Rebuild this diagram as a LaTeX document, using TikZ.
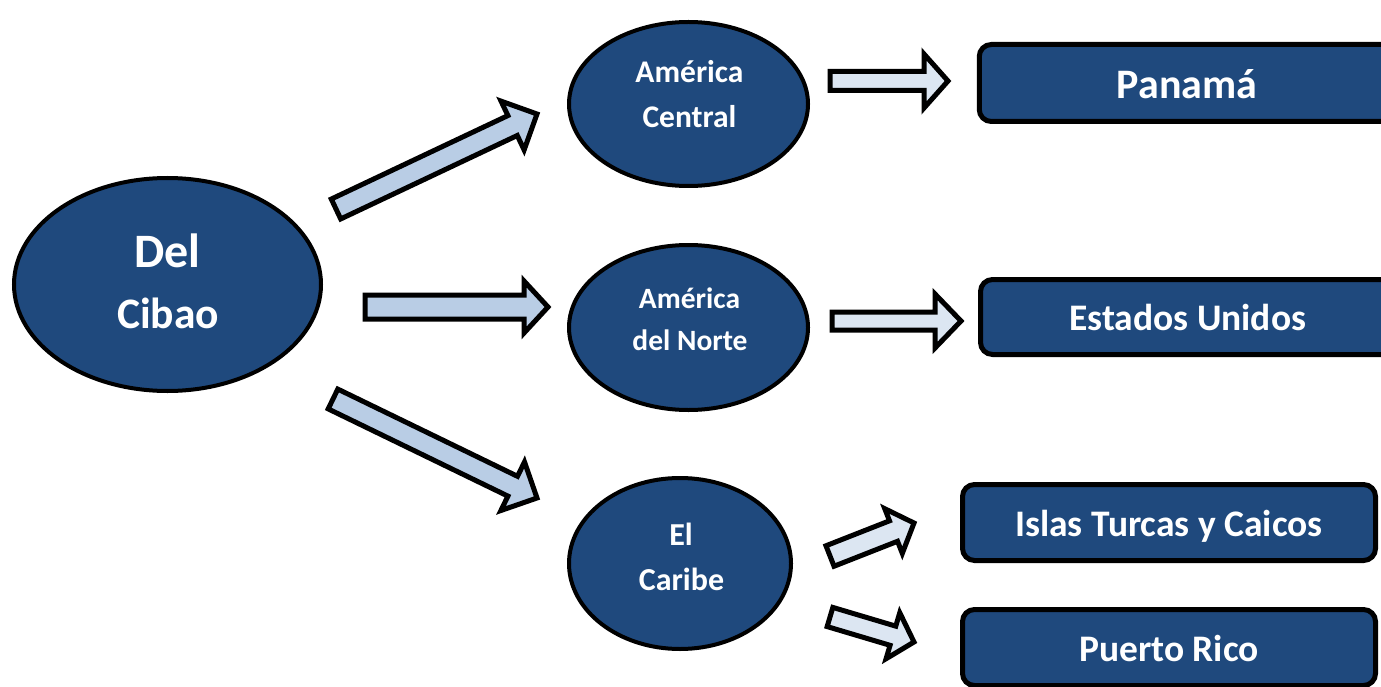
\documentclass[tikz,border=0pt]{standalone}
\usepackage{fontspec}
\setmainfont{Carlito}
\usetikzlibrary{calc,shapes.geometric}
\definecolor{navy}{HTML}{1F497D}
\definecolor{lightarr}{HTML}{B9CDE5}
\definecolor{palearr}{HTML}{DCE6F2}
\tikzset{
  ell/.style={ellipse, draw=black, line width=4pt, fill=navy, inner sep=0pt},
  box/.style={rectangle, rounded corners=12pt, draw=black, line width=5pt, fill=navy, inner sep=0pt,
     text=white, font=\bfseries\fontsize{37.5}{40}\selectfont, text height=30pt, text depth=2.8pt},
  lbl/.style={text=white, anchor=base, inner sep=0pt},
  barrow/.style={draw=black, line width=5pt, line join=miter}
}
\newcommand{\blockarr}[7]{%
  \coordinate (#1h) at ($(#3)!#6pt!(#2)$);
  \draw[barrow, fill=#7] ($(#2)!#4pt!90:(#3)$) -- ($(#1h)!#4pt!90:(#3)$) -- ($(#1h)!#5pt!90:(#3)$) -- (#3)
     -- ($(#1h)!#5pt!-90:(#3)$) -- ($(#1h)!#4pt!-90:(#3)$) -- ($(#2)!#4pt!-90:(#3)$) -- cycle;}
\begin{document}
\begin{tikzpicture}[x=1pt,y=-1pt]
\useasboundingbox (0,0) rectangle (1381,687);
\clip (0,0) rectangle (1381,687);
% ellipses
\node[ell, minimum width=307pt, minimum height=213pt] (cibao) at (167.5,284.5) {};
\node[ell, minimum width=239pt, minimum height=164pt] (central) at (688.5,104) {};
\node[ell, minimum width=239pt, minimum height=165pt] (norte) at (688.5,327.5) {};
\node[ell, minimum width=222pt, minimum height=171pt] (caribe) at (680,563.5) {};
% ellipse texts
\node[lbl, font=\bfseries\fontsize{48}{52}\selectfont] (cibaoA) at (167.5,267) {Del};
\node[lbl, font=\bfseries\fontsize{43.5}{48}\selectfont] (cibaoB) at (168,328) {Cibao};
\node[lbl, font=\bfseries\fontsize{31.5}{36}\selectfont] (centralA) at (689.5,83) {América};
\node[lbl, font=\bfseries\fontsize{31.5}{36}\selectfont] (centralB) at (689.5,128) {Central};
\node[lbl, font=\bfseries\fontsize{29.5}{34}\selectfont] (norteA) at (689.5,308) {América};
\node[lbl, font=\bfseries\fontsize{29.5}{34}\selectfont] (norteB) at (690,350) {del Norte};
\node[lbl, font=\bfseries\fontsize{32}{36}\selectfont] (caribeA) at (681,545) {El};
\node[lbl, font=\bfseries\fontsize{32}{36}\selectfont] (caribeB) at (681.5,590) {Caribe};
% boxes
\node[box, minimum width=415.5pt, minimum height=77pt, font=\bfseries\fontsize{42}{46}\selectfont,
      text height=37pt, text depth=5pt] (panama) at (1187,83) {Panamá};
\node[box, minimum width=414.5pt, minimum height=75pt] (eeuu) at (1187.75,317) {Estados Unidos};
\node[box, minimum width=413pt, minimum height=76pt] (turcas) at (1169,522.5) {Islas Turcas y Caicos};
\node[box, minimum width=413pt, minimum height=76pt] (prico) at (1169,647.5) {Puerto Rico};
% arrow end points
\coordinate (a1t) at (336,209); \coordinate (a1h) at (537,114);
\coordinate (a2t) at (365,307); \coordinate (a2h) at (548,307);
\coordinate (a3t) at (333,399); \coordinate (a3h) at (537,498);
\coordinate (a4t) at (830,81);  \coordinate (a4h) at (948,81);
\coordinate (a5t) at (832,321); \coordinate (a5h) at (961,321);
\coordinate (a6t) at (830,556); \coordinate (a6h) at (914,523);
\coordinate (a7t) at (830,617); \coordinate (a7h) at (914,642);
% arrows
\blockarr{x1}{a1t}{a1h}{11}{27}{27}{lightarr}
\blockarr{x2}{a2t}{a2h}{12}{26}{24}{lightarr}
\blockarr{x3}{a3t}{a3h}{11}{27}{27}{lightarr}
\blockarr{x4}{a4t}{a4h}{9.5}{27}{24}{palearr}
\blockarr{x5}{a5t}{a5h}{9}{27}{26}{palearr}
\blockarr{x6}{a6t}{a6h}{11}{24}{22}{palearr}
\blockarr{x7}{a7t}{a7h}{10}{24}{22}{palearr}
\end{tikzpicture}
\end{document}
